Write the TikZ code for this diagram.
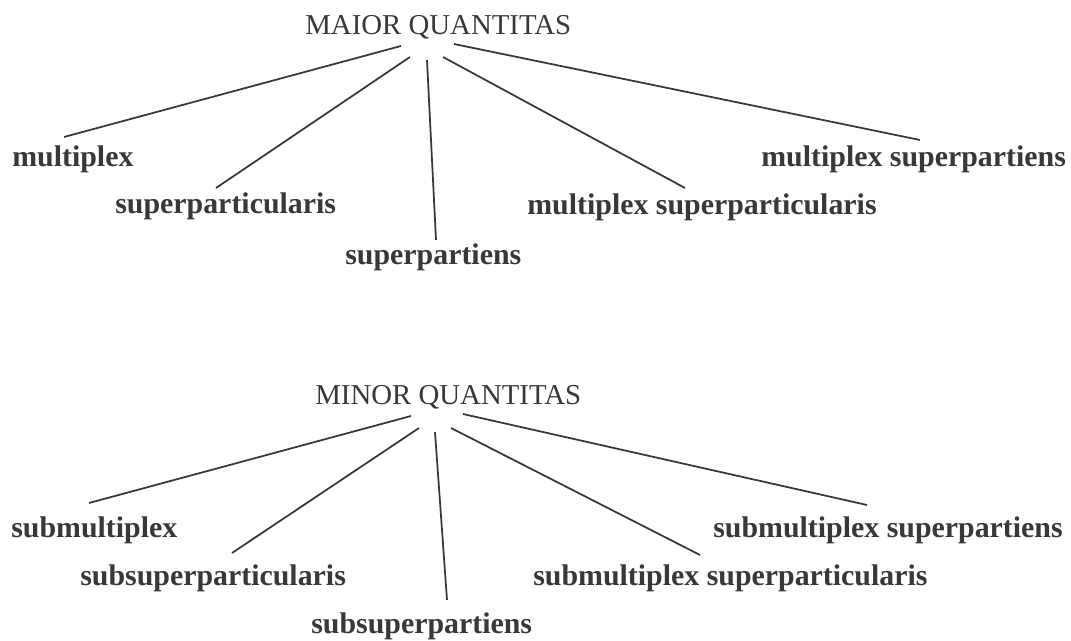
\documentclass[tikz,border=0pt]{standalone}
\usepackage{fontspec}
\setmainfont{Liberation Serif}
\usetikzlibrary{calc}
\definecolor{ink}{HTML}{383838}

\begin{document}
\begin{tikzpicture}[x=0.02cm,y=-0.02cm,
    head/.style={anchor=base west,inner sep=0pt,text=ink,font=\fontsize{16.4}{19}\selectfont},
    kind/.style={anchor=base west,inner sep=0pt,text=ink,font=\fontsize{17}{20}\selectfont\bfseries},
    branch/.style={draw=ink,line width=1pt}]
    \useasboundingbox (0,0) rectangle (1071,641);

    % greater quantity
    \node[head] (maior) at (305,35) {MAIOR QUANTITAS};
    \node[kind] (mult) at (12,167) {multiplex};
    \node[kind] (spart) at (115,214) {superparticularis};
    \node[kind] (sptns) at (345,265) {superpartiens};
    \node[kind] (msparti) at (527,215) {multiplex superparticularis};
    \node[kind] (msptns) at (761,167) {multiplex superpartiens};

    \draw[branch] ($(maior.base west)+(96,11)$) -- ($(mult.base west)+(52,-30)$);
    \draw[branch] ($(maior.base west)+(105,22)$) -- ($(spart.base west)+(101,-26)$);
    \draw[branch] ($(maior.base west)+(122,25)$) -- ($(sptns.base west)+(91,-25)$);
    \draw[branch] ($(maior.base west)+(138,22)$) -- ($(msparti.base west)+(158,-27)$);
    \draw[branch] ($(maior.base west)+(149,9)$) -- ($(msptns.base west)+(159,-27)$);

    % lesser quantity
    \node[head] (minor) at (315,405) {MINOR QUANTITAS};
    \node[kind] (smult) at (11,537) {submultiplex};
    \node[kind] (ssparti) at (80,585) {subsuperparticularis};
    \node[kind] (ssptns) at (311,633) {subsuperpartiens};
    \node[kind] (smsparti) at (533,585) {submultiplex superparticularis};
    \node[kind] (smsptns) at (713,537) {submultiplex superpartiens};

    \draw[branch] ($(minor.base west)+(96,11)$) -- ($(smult.base west)+(78,-34)$);
    \draw[branch] ($(minor.base west)+(104,23)$) -- ($(ssparti.base west)+(152,-32)$);
    \draw[branch] ($(minor.base west)+(120,27)$) -- ($(ssptns.base west)+(136,-33)$);
    \draw[branch] ($(minor.base west)+(136,23)$) -- ($(smsparti.base west)+(167,-30)$);
    \draw[branch] ($(minor.base west)+(148,9)$) -- ($(smsptns.base west)+(154,-32)$);

\end{tikzpicture}
\end{document}
